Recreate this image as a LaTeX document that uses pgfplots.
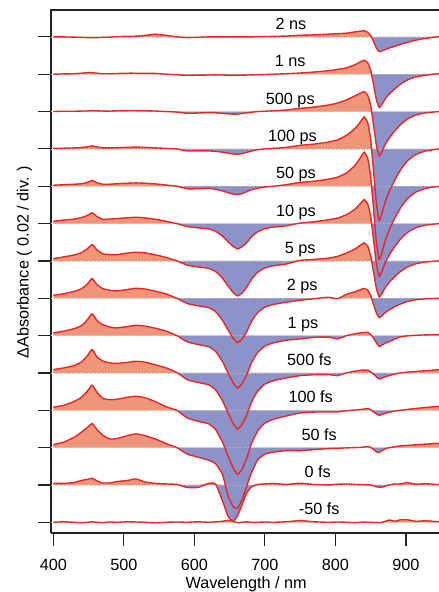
\documentclass[border=0pt]{standalone}
\usepackage{pgfplots}
\pgfplotsset{compat=1.18}
\usepackage{pgfplotstable}
\usepackage{fontspec}
\setmainfont{Liberation Sans}
\definecolor{salm}{RGB}{240,150,120}
\definecolor{lav}{RGB}{141,146,201}
\definecolor{tr}{RGB}{232,38,36}
\definecolor{ax}{RGB}{35,35,35}
\newcommand\lbl{\fontsize{16.3}{19}\selectfont}

\pgfplotstableread{
lam a b c d e f g h i j k l m n
400 0 0 0 0.5 1 2.3 2.3 3 2.7 3.3 3 3 1.7 0
415 0 0.3 0.3 0.7 1.5 3.5 4 4.5 4.5 5 5 5.5 1.5 0.5
430 -0.3 0.5 0.3 1 2 4.5 6 7 7 7.5 9 10.5 2.5 0
440 -0.5 1 0.5 1.5 2.5 6 8.3 9.5 10 11 13 15.5 4.5 -0.5
448 -0.7 1.5 0.6 2 3.8 8 12 14 15.5 17 19 20 5.5 0
455 -0.7 1.5 1 3 5.7 10.7 16.3 19.7 21.7 23.3 25 24 6.7 0.5
462 -0.7 1 0.7 2 3.5 7 11 13.5 15 16 18 18 4 0
470 -0.5 0.5 0.5 1 2 4.3 7.2 9.7 11 12 12 12.5 2 -0.3
480 -0.3 0.5 0.5 1 2 4.5 6.3 8 8.5 10 10.5 8.7 2 0.3
490 0.3 0.7 0.8 1.2 2.5 5 6.3 7.3 7.7 9.5 11 9 3.3 0
505 0.5 1 1 1.5 3 5.8 7.8 8.7 9 10.5 13 12 4.5 0.5
517 0.7 1 1 1.8 3.3 6.3 8.7 10 10.3 11.7 14 13.7 6 0.3
530 1.5 0.8 0.8 1.5 3 5.7 8 9.2 9.5 10.8 12.5 12 3 0
545 2.7 0.8 0.5 1 2.3 4.2 6 7 7.3 8 8.5 8.5 1.5 -0.5
560 1.5 0 0 0.5 1.2 2.3 3.5 4.3 4.5 5 3.5 4 1 0
575 0 -0.5 -0.5 0 0 0 0 0 0 0.5 0 0 0.5 0.3
590 -0.7 -1.3 -1.7 -2 -2.5 -3 -4.2 -5.3 -6.3 -6.7 -7.7 -6.5 -2.5 0
605 -0.5 -1 -1.5 -2 -2.5 -4.3 -6 -7.5 -8.9 -9.5 -10.9 -9.5 -2.5 0.5
620 0 -0.8 -1 -2 -2 -5.3 -7.4 -9.3 -11 -11.8 -13.4 -12.5 1.5 0
630 0 -0.7 -1.2 -2.5 -3 -7.6 -10.5 -13.3 -15.7 -16.8 -19.2 -16 1 0.5
640 0 -0.8 -1.8 -3.3 -4.8 -12.7 -17.5 -22.2 -26.2 -28 -32 -27 -16 1
648 0 -1 -2.3 -4.3 -6.5 -18.2 -25.2 -31.9 -37.7 -40.3 -46.1 -48.7 -31.7 2
655 0 -1.2 -2.6 -5 -7.8 -22.8 -31.5 -39.9 -47.1 -50.4 -57.6 -59 -36 1
661 0 -1.2 -2.5 -5.3 -8.3 -25.3 -35 -44.3 -52.3 -56 -64 -61 -31 -0.5
667 0 -1 -2 -4.8 -7.5 -23.5 -32.6 -41.2 -48.6 -52.1 -59.5 -53 -21 0
674 0 -0.8 -1.3 -3.5 -5.5 -19.2 -26.6 -33.7 -39.7 -42.6 -48.6 -39 -8.3 0.5
681 0 -0.7 -0.7 -2.2 -3.5 -13.2 -18.2 -23 -27.2 -29.1 -33.3 -25 -2 0
690 0.2 -0.5 0 -0.8 -1.8 -8.1 -11.2 -14.2 -16.7 -17.9 -20.5 -12 0.5 0
700 0.3 -0.3 0.3 0 -0.8 -5.1 -7 -8.9 -10.5 -11.2 -12.8 -6.5 1 0.3
712 0.5 0 0.8 0.5 0 -3.5 -4.9 -6.2 -7.3 -7.8 -9 -4.5 1.5 0
730 0.8 0.5 1.5 1.5 1.5 -2.3 -3.2 -4 -4.7 -5 -5.8 -3 0.5 0.5
750 1.6 1.2 3.2 3.5 3.8 0.5 0.5 -2 -3.3 -2.7 -2.7 -3 1.7 1.7
770 2 2.2 4.5 4.8 5 1.8 1.5 -0.5 -1.8 -1.8 -1.8 -2 0.5 0.5
790 2.7 3.5 6.5 6.8 7 3.8 2.8 1 -1.5 -1.7 -1.7 -1 0 0
803 3.2 4.8 8.5 9 9 5.5 4.5 -0.5 -3.3 -2.7 -1.7 -0.7 0.7 0.3
816 3.7 6.4 11.7 13.7 13.4 9 8 4 0 0 -0.5 -0.3 1 0
828 5 9.6 15.8 20.5 21 14.5 12 6.5 1.8 1.8 0.3 0 0.5 -0.3
836 5.8 12.5 18.5 27.5 29 20.5 16 8.7 2.8 2.7 0.8 0.2 0.3 0
841 6 14 20 32 34 24 18 9.7 3.1 2.8 1.2 0.6 0.2 0.3
846 4.5 11.2 16 25.6 27.2 19.2 14.4 7.8 3.3 2.7 1.7 1 0 0
850 1.5 4.2 6 9.6 10.2 7.2 5.4 2.9 1 1 0.5 0.2 0 0
852 -1.5 -3 -3.6 -5.9 -6 -4.3 -2.7 -1.5 -0.7 0 -0.5 -0.8 -0.4 -0.1
854 -4.5 -10 -13.3 -21.4 -22 -15.8 -10.8 -5.8 -2.5 -1 -1.5 -1.8 -0.8 -0.3
858 -11 -25 -33.2 -53.5 -55 -39.5 -27 -14.5 -7 -3.8 -3.5 -4.2 -1.8 0
862 -14.7 -33.3 -44.3 -71.3 -73.3 -52.7 -36 -19.3 -10.7 -6 -5 -4.6 -2.2 -0.5
866 -14 -30 -39.9 -64.2 -66 -47.4 -32.4 -17.4 -9.5 -5.2 -4.3 -3 -2.3 0
871 -12.5 -24.3 -32.3 -52 -53.5 -38.5 -26.3 -14.1 -7.5 -3.8 -3 -1 -1 1
877 -11 -19.3 -25.7 -41.4 -42.5 -30.6 -20.9 -11.2 -5.8 -2.5 -1.8 0 0 2.3
884 -9.5 -14.7 -19.5 -31.4 -32.3 -23.2 -15.8 -8.5 -3.5 -1.2 -0.8 0.8 1 1
892 -7.5 -10 -13.3 -21.4 -22 -15.8 -10.8 -5.8 -1.3 0 0 1.7 1 2.5
902 -5.5 -5.7 -7.5 -12.1 -12.5 -9 -6.1 -3.3 -0.3 0.8 0.8 2.2 2.3 2.5
914 -3.3 -2.7 -3.5 -5.7 -5.9 -4.2 -2.9 -1.5 0.3 1.5 1.8 2.8 0.8 1
928 -1.5 -1 -1.3 -2.1 -2.2 -1.6 -1.1 -0.6 0.7 2.2 2.8 3.5 1.2 1.5
947 0.3 0.7 0 0 0 0 0 0 1 3.3 4 4.3 0.3 0.5
}\data

% #1 column, #2 baseline
\newcommand{\tfill}[2]{%
 \addplot[fill=salm, draw=none, smooth, tension=0.3] table[x=lam, y expr={max(\thisrow{#1},0)/37.3+#2}] {\data}
   -- (axis cs:947,#2) -- (axis cs:400,#2) -- cycle;
 \addplot[fill=lav, draw=none, smooth, tension=0.3] table[x=lam, y expr={min(\thisrow{#1},0)/37.3+#2}] {\data}
   -- (axis cs:947,#2) -- (axis cs:400,#2) -- cycle;
 \addplot[draw=gray!50, dotted, line width=0.6pt] coordinates {(396.7,#2) (946.9,#2)};
}
\newcommand{\tline}[2]{%
 \addplot[tr, line width=1.4pt, smooth, tension=0.3] table[x=lam, y expr=\thisrow{#1}/37.3+#2] {\data};
}

\begin{document}
\begin{tikzpicture}[x=1bp,y=1bp]
\useasboundingbox (-51,-59) rectangle (388,533);
\begin{axis}[
 at={(0,0)}, anchor=south west, scale only axis,
 width=388bp, height=523bp,
 xmin=396.7, xmax=946.9, ymin=-0.287, ymax=13.72,
 axis x line*=bottom, axis y line*=left,
 axis line style={line width=1.3pt, draw=ax},
 xtick={400,500,600,700,800,900},
 ytick={0,1,...,13}, yticklabels={},
 tick align=outside, major tick length=12.5bp,
 tick style={line width=1.2pt, draw=ax},
 ticklabel style={font=\lbl},
 xticklabel style={yshift=-10bp},
 /pgf/number format/assume math mode=true,
 xlabel={Wavelength / nm},
 xlabel style={font=\lbl, at={(axis description cs:0.503,0)}, anchor=center, yshift=-51bp},
 ylabel={ΔAbsorbance ( 0.02 / div. )},
 ylabel style={font=\lbl, at={(axis description cs:-0.0683,0.518)}, anchor=center},
]
\tfill{a}{13}
\tfill{b}{12}
\tfill{c}{11}
\tfill{d}{10}
\tfill{e}{9}
\tfill{f}{8}
\tfill{g}{7}
\tfill{h}{6}
\tfill{i}{5}
\tfill{j}{4}
\tfill{k}{3}
\tfill{l}{2}
\tfill{m}{1}
\tfill{n}{0}
\tline{a}{13}
\tline{b}{12}
\tline{c}{11}
\tline{d}{10}
\tline{e}{9}
\tline{f}{8}
\tline{g}{7}
\tline{h}{6}
\tline{i}{5}
\tline{j}{4}
\tline{k}{3}
\tline{l}{2}
\tline{m}{1}
\tline{n}{0}
\node[font=\lbl, anchor=base] at (axis cs:737,13.2) {2 ns};
\node[font=\lbl, anchor=base] at (axis cs:736,12.2) {1 ns};
\node[font=\lbl, anchor=base] at (axis cs:736,11.2) {500 ps};
\node[font=\lbl, anchor=base] at (axis cs:739,10.2) {100 ps};
\node[font=\lbl, anchor=base] at (axis cs:744,9.2) {50 ps};
\node[font=\lbl, anchor=base] at (axis cs:744,8.2) {10 ps};
\node[font=\lbl, anchor=base] at (axis cs:750,7.2) {5 ps};
\node[font=\lbl, anchor=base] at (axis cs:753,6.2) {2 ps};
\node[font=\lbl, anchor=base] at (axis cs:754,5.2) {1 ps};
\node[font=\lbl, anchor=base] at (axis cs:763,4.2) {500 fs};
\node[font=\lbl, anchor=base] at (axis cs:765,3.2) {100 fs};
\node[font=\lbl, anchor=base] at (axis cs:777,2.2) {50 fs};
\node[font=\lbl, anchor=base] at (axis cs:775,1.2) {0 fs};
\node[font=\lbl, anchor=base] at (axis cs:777,0.2) {-50 fs};
\end{axis}
\draw[line width=1.3pt, ax] (-0.65,523) -- (388,523);
\end{tikzpicture}
\end{document}
